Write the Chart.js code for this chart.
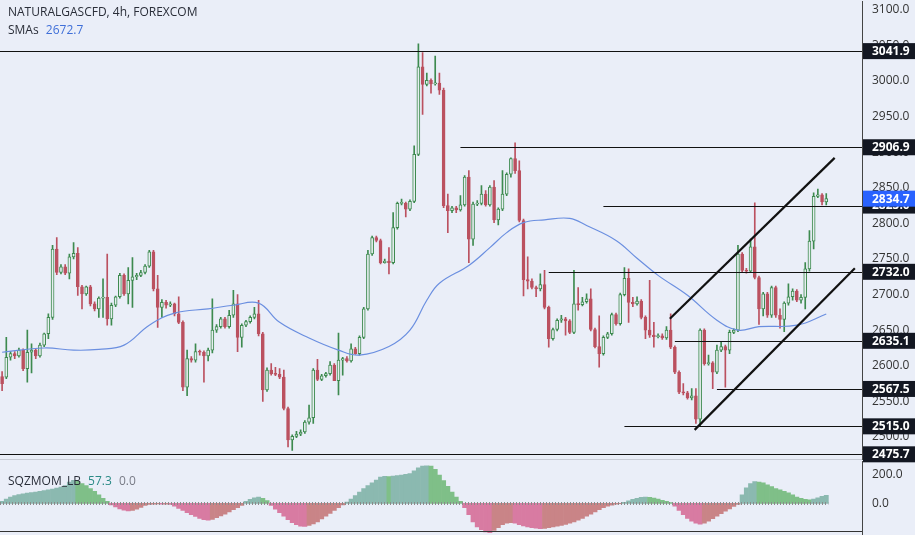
<!DOCTYPE html>
<html><head><meta charset="utf-8">
<script src="https://cdn.jsdelivr.net/npm/chart.js@4.4.0/dist/chart.umd.min.js"></script>
<style>
html,body{margin:0;padding:0;background:#eaeef8;overflow:hidden;}
#wrap{position:relative;width:915px;height:535px;overflow:hidden;font-family:"Open Sans","Liberation Sans",sans-serif;}
#main{position:absolute;left:0;top:-16px;}
#osc{position:absolute;left:0;top:444px;}
.t{position:absolute;font-size:12px;color:#2a2e39;}
</style></head><body>
<div id="wrap">
<div style="position:absolute;left:0;top:459px;width:862px;height:1px;background:#c8ccd6"></div>
<canvas id="main" width="915" height="493"></canvas>
<canvas id="osc" width="915" height="108"></canvas>
<div style="position:absolute;left:0;top:531px;width:862px;height:1px;background:#333"></div>
<div class="t" style="left:8px;top:3px;">NATURALGASCFD, 4h, FOREXCOM</div>
<div class="t" style="left:8px;top:21px;">SMAs <span style="color:#3f6fd8;margin-left:4px">2672.7</span></div>
<div class="t" style="left:8px;top:472px;">SQZMOM_LB <span style="color:#2a8a86;margin-left:4px">57.3</span> <span style="color:#787b86;margin-left:4px">0.0</span></div>
</div>
<script>
const opens=[2585,2584,2612,2617,2614,2622,2596,2619,2622,2614,2629,2645,2668,2764,2731,2739,2730,2753,2758,2711,2701,2711,2687,2680,2695,2696,2666,2685,2697,2727,2701,2720,2725,2727,2731,2740,2760,2708,2682,2689,2685,2687,2673,2661,2570,2610,2608,2620,2619,2614,2622,2650,2655,2666,2655,2671,2687,2640,2657,2662,2668,2673,2645,2566,2594,2589,2588,2584,2540,2496,2501,2504,2507,2521,2527,2594,2581,2586,2589,2601,2579,2608,2610,2607,2624,2617,2640,2680,2757,2780,2776,2745,2747,2745,2794,2828,2828,2820,2831,2897,3020,2995,3001,2996,2997,2987,2825,2818,2822,2819,2826,2865,2778,2827,2828,2841,2826,2851,2805,2820,2841,2869,2891,2874,2804,2721,2719,2710,2708,2714,2682,2638,2651,2664,2666,2663,2647,2687,2686,2690,2694,2651,2627,2617,2640,2645,2672,2659,2700,2723,2689,2687,2691,2668,2650,2643,2641,2642,2639,2650,2626,2591,2563,2562,2555,2558,2525,2650,2603,2604,2591,2622,2627,2622,2647,2650,2757,2734,2733,2767,2724,2680,2701,2671,2710,2671,2665,2688,2697,2705,2692,2696,2736,2775,2838,2840,2830];
const highs=[2592,2640,2620,2620,2625,2624,2650,2631,2624,2632,2646,2673,2769,2780,2742,2742,2757,2773,2766,2713,2712,2713,2690,2697,2722,2757,2688,2698,2730,2729,2738,2752,2730,2734,2742,2762,2762,2727,2693,2692,2690,2688,2697,2663,2622,2613,2631,2622,2621,2625,2694,2658,2668,2668,2678,2706,2700,2659,2664,2670,2682,2692,2647,2597,2603,2598,2596,2594,2542,2503,2508,2510,2523,2545,2596,2609,2588,2591,2606,2603,2646,2612,2613,2631,2626,2642,2682,2762,2782,2782,2778,2750,2766,2815,2830,2834,2830,2833,2909,3052,3040,3011,3003,3035,3011,2990,2841,2824,2824,2839,2867,2874,2830,2832,2853,2846,2853,2860,2822,2874,2871,2892,2913,2888,2806,2753,2722,2712,2729,2734,2684,2653,2666,2671,2668,2665,2734,2710,2696,2701,2708,2653,2670,2642,2647,2674,2674,2702,2738,2736,2696,2697,2693,2670,2720,2661,2645,2645,2655,2673,2628,2593,2575,2564,2568,2568,2652,2652,2615,2606,2629,2633,2629,2650,2652,2769,2759,2737,2778,2829,2726,2703,2703,2712,2712,2680,2690,2715,2708,2707,2700,2745,2790,2843,2848,2842,2842];
const lows=[2565,2582,2608,2610,2612,2593,2577,2590,2610,2612,2627,2638,2665,2728,2729,2728,2722,2750,2699,2680,2699,2684,2677,2668,2668,2657,2657,2683,2695,2699,2687,2682,2721,2725,2729,2738,2705,2654,2668,2681,2683,2670,2659,2565,2558,2605,2605,2615,2577,2607,2618,2647,2653,2653,2653,2668,2620,2626,2655,2660,2666,2642,2550,2564,2587,2586,2582,2538,2486,2481,2499,2502,2505,2518,2519,2579,2579,2584,2587,2579,2559,2587,2605,2605,2616,2615,2638,2678,2755,2774,2743,2744,2729,2743,2792,2826,2809,2818,2829,2895,2953,2993,2983,2994,2981,2822,2787,2815,2815,2817,2824,2745,2769,2825,2826,2824,2824,2801,2798,2818,2839,2865,2870,2802,2698,2708,2708,2697,2705,2680,2626,2636,2649,2661,2643,2645,2645,2678,2684,2688,2649,2625,2598,2615,2638,2643,2657,2657,2698,2661,2683,2685,2666,2638,2640,2626,2639,2637,2637,2624,2589,2561,2559,2553,2552,2519,2515,2601,2601,2568,2589,2620,2570,2617,2645,2648,2732,2730,2731,2722,2658,2670,2668,2668,2668,2653,2648,2685,2692,2690,2688,2680,2733,2764,2836,2826,2826];
const closes=[2575,2612,2617,2614,2622,2596,2619,2622,2614,2629,2645,2668,2764,2731,2739,2730,2753,2758,2711,2701,2711,2687,2680,2695,2696,2666,2685,2697,2727,2701,2720,2725,2727,2731,2740,2760,2708,2682,2689,2685,2687,2673,2661,2570,2610,2608,2620,2619,2614,2622,2650,2655,2666,2655,2671,2687,2640,2657,2662,2668,2673,2645,2566,2594,2589,2588,2584,2540,2496,2501,2504,2507,2521,2527,2594,2581,2586,2589,2601,2579,2608,2610,2607,2624,2617,2640,2680,2757,2780,2776,2745,2747,2745,2794,2828,2828,2820,2831,2897,3020,2995,3001,2996,2997,2987,2825,2818,2822,2819,2826,2865,2778,2827,2828,2841,2826,2851,2805,2820,2841,2869,2891,2874,2804,2721,2719,2710,2708,2714,2682,2638,2651,2664,2666,2663,2647,2687,2686,2690,2694,2651,2627,2617,2640,2645,2672,2659,2700,2723,2689,2687,2691,2668,2650,2643,2641,2642,2639,2650,2626,2591,2563,2562,2555,2558,2525,2650,2603,2604,2591,2622,2627,2622,2647,2650,2757,2734,2733,2767,2724,2680,2701,2671,2710,2671,2665,2688,2697,2705,2692,2696,2736,2775,2838,2840,2830,2834.7];
const smaIdx=[0,10,17,23,29,35,41,49,55,61,66,73,80,85,92,97,101,104,111,116,120,124,129,135,139,146,151,156,163,170,175,180,189,196];
const smaVal=[2619,2625,2622,2623,2629,2657,2674,2680,2685,2688,2661,2639,2622,2615,2627,2650,2692,2716,2741,2766,2787,2801,2805,2807,2797,2776,2751,2727,2699,2664,2650,2655,2657,2672.7];
const momentum=[15,30,45,55,62,68,72,76,80,85,90,95,100,108,115,125,150,162,155,140,125,105,85,60,35,15,
-10,-25,-38,-48,-53,-50,-40,-28,-15,-8,
-5,-4,-6,-5,-8,
-20,-35,-50,-65,-80,-92,-105,-115,-118,-112,-100,-88,-75,-60,-45,-30,-15,
15,28,40,44,35,20,
-15,-40,-65,-90,-115,-135,-150,-160,-162,-155,-145,-130,-110,-90,-70,-50,-30,-10,
10,30,55,80,105,125,145,165,185,190,188,192,195,200,205,210,230,250,262,265,262,240,200,160,120,80,45,15,
-30,-80,-130,-165,-185,-200,-206,-190,-170,-150,-140,-135,-140,-150,-158,-165,-170,-175,-178,-176,-170,-165,-160,-155,-148,-140,-130,-118,-105,-90,-75,-60,-45,-30,-20,-12,-5,-2,
8,18,28,36,42,44,43,38,30,22,14,6,
-20,-50,-80,-105,-125,-140,-147,-140,-125,-108,-90,-72,-55,-38,-22,-8,
60,110,140,153,150,145,130,118,105,95,85,75,60,45,35,28,25,30,40,50,57.3];
const levels=[3041.9,2906.9,2825.0,2732.0,2635.1,2567.5,2515.0,2475.7];
const levelStart=[0,109,143,130,160,170,148,0];
const channelUpper=[[158.8,2666],[198,2892]];
const channelLower=[[164.7,2510],[202.8,2737]];
const lastPrice=2834.7;
const yTicks=[2500,2550,2600,2650,2700,2750,2800,2850,2900,2950,3000,3050,3100];
const oscTicks=[0,200];

const SLOTS=205;
const labels=Array.from({length:SLOTS},(_,i)=>i);
const G='#3d8a4f',R='#bb5160';
const up=closes.map((c,i)=>c>=opens[i]);
const smaData=new Array(SLOTS).fill(null);smaIdx.forEach((k,j)=>smaData[k]=smaVal[j]);
const FONT='"Open Sans",sans-serif';

const overlay={id:'ov',afterDatasetsDraw(ch){
 const {ctx,chartArea:a,scales:{x,y}}=ch;
 const px=i=>x.getPixelForValue(0)+(x.getPixelForValue(1)-x.getPixelForValue(0))*i;
 ctx.save();ctx.strokeStyle='#111';ctx.lineWidth=1.2;
 levels.forEach((v,i)=>{const py=Math.round(y.getPixelForValue(v))+0.5;ctx.beginPath();ctx.moveTo(levelStart[i]?px(levelStart[i]):0,py);ctx.lineTo(a.right,py);ctx.stroke();});
 ctx.lineWidth=2.2;
 [channelUpper,channelLower].forEach(l=>{ctx.beginPath();ctx.moveTo(px(l[0][0]),y.getPixelForValue(l[0][1]));ctx.lineTo(px(l[1][0]),y.getPixelForValue(l[1][1]));ctx.stroke();});
 ctx.restore();
},afterDraw(ch){
 const {ctx,chartArea:a,scales:{y}}=ch;ctx.save();
 ctx.font='bold 12px '+FONT;ctx.textBaseline='middle';
 const box=(v,bg)=>{const py=y.getPixelForValue(v);ctx.fillStyle=bg;ctx.fillRect(a.right+1,py-8,53,16);ctx.fillStyle='#fff';ctx.fillText(v.toFixed(1),a.right+10,py+0.5);};
 levels.forEach(v=>box(v,'#131722'));box(lastPrice,'#2962ff');
 ctx.restore();}};

new Chart(document.getElementById('main'),{type:'bar',data:{labels,datasets:[
 {type:'line',data:smaData,borderColor:'#6b8fe0',borderWidth:1.2,pointRadius:0,spanGaps:true,tension:0.4,order:-1},
 {data:closes.map((c,i)=>[opens[i],c]),backgroundColor:up.map(u=>u?'#e6eef0':R),borderColor:up.map(u=>u?G:R),borderWidth:1,barThickness:3,minBarLength:1,grouped:false,order:0,borderSkipped:false},
 {data:highs.map((h,i)=>[lows[i],h]),backgroundColor:up.map(u=>u?G:R),barThickness:1,grouped:false,order:1}
]},plugins:[overlay],options:{responsive:false,animation:false,events:[],layout:{padding:0},
 plugins:{legend:{display:false},tooltip:{enabled:false}},
 scales:{x:{display:false,offset:true},
  y:{position:'right',min:2468,max:3112,afterFit(s){s.width=53;},afterBuildTicks(s){s.ticks=yTicks.map(v=>({value:v}));},
   grid:{display:false,drawTicks:false},border:{color:'#444'},ticks:{padding:10,color:'#333',font:{size:12,family:FONT},callback:v=>v.toFixed(1)}}}}});

const momCol=momentum.map((v,i)=>{const p=i?momentum[i-1]:0;return v>=0?(v>=p?'#8bb9b0':'#7fbf88'):(v<=p?'#d87ba2':'#c98487');});
const zero={id:'z',afterDatasetsDraw(ch){const {ctx,scales:{x,y}}=ch;const py=y.getPixelForValue(0);ctx.save();ctx.strokeStyle='#8a8a8a';ctx.lineWidth=3;ctx.setLineDash([1,2]);ctx.beginPath();ctx.moveTo(0,py);ctx.lineTo(x.getPixelForValue(momentum.length-1)+2,py);ctx.stroke();ctx.restore();}};
new Chart(document.getElementById('osc'),{type:'bar',data:{labels,datasets:[{data:momentum,backgroundColor:momCol,barPercentage:1,categoryPercentage:1}]},plugins:[zero],
 options:{responsive:false,animation:false,events:[],plugins:{legend:{display:false},tooltip:{enabled:false}},
 scales:{x:{display:false,offset:true},y:{position:'right',min:-221,max:297,afterFit(s){s.width=53;},afterBuildTicks(s){s.ticks=oscTicks.map(v=>({value:v}));},
  grid:{display:false,drawTicks:false},border:{color:'#444'},ticks:{padding:10,color:'#333',font:{size:12,family:FONT},callback:v=>v.toFixed(1)}}}}});
</script>
</body></html>
